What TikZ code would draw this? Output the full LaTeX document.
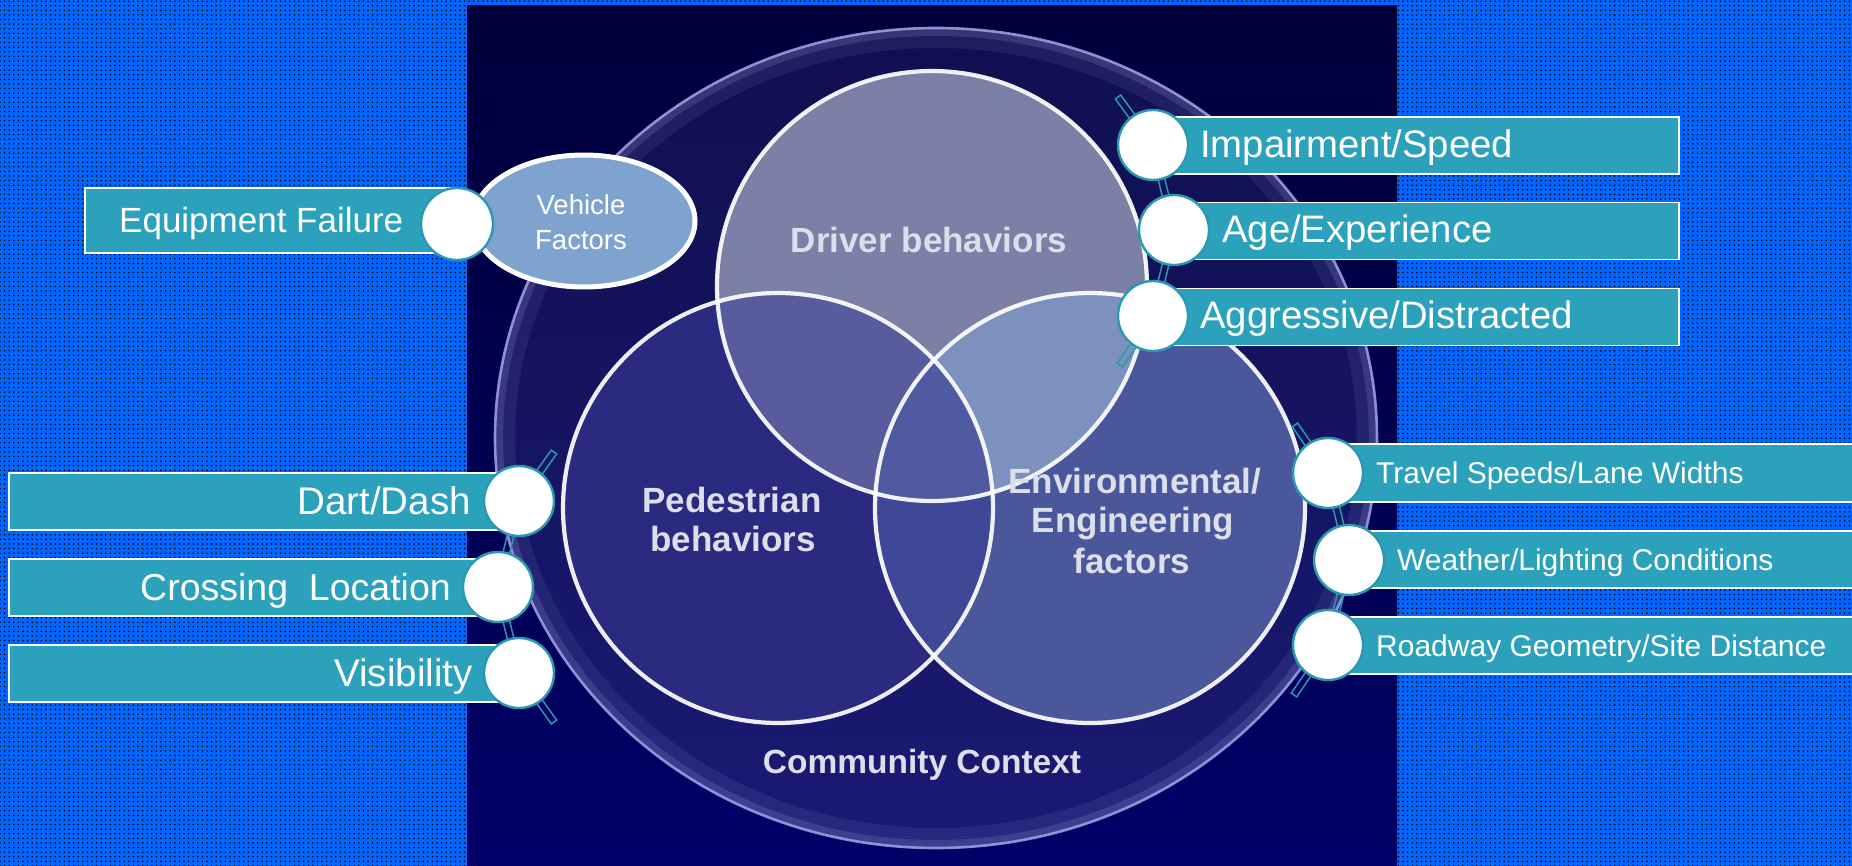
\documentclass[tikz,border=0pt]{standalone}
\usepackage{fontspec}
\setmainfont{Liberation Sans}
\usetikzlibrary{calc,patterns.meta,shapes.geometric}

\definecolor{bgblue}{HTML}{0066FF}
\definecolor{navytop}{HTML}{00003A}
\definecolor{navybot}{HTML}{000068}
\definecolor{ringtop}{HTML}{0F0F50}
\definecolor{ringbot}{HTML}{1A1A74}
\definecolor{ringedge}{HTML}{A4A4E8}
\definecolor{drv}{HTML}{7A80A6}
\definecolor{pedc}{HTML}{2A2A80}
\definecolor{envc}{HTML}{4A589B}
\definecolor{dpc}{HTML}{585C9C}
\definecolor{dec}{HTML}{7C91BE}
\definecolor{pec}{HTML}{3E4896}
\definecolor{dpec}{HTML}{505AA0}
\definecolor{tealfill}{HTML}{2CA1BB}
\definecolor{tealline}{HTML}{2A98B0}
\definecolor{vehfill}{HTML}{7FA3CF}
\definecolor{venntext}{HTML}{DCDEEA}

\newcommand\mysize[1]{\fontsize{#1}{#1}\selectfont}
% a thin bar outlined in teal between two named points
\newcommand\tealbar[2]{%
  \draw[barline] ($(#1)!3.3pt!90:(#2)$) -- ($(#2)!3.3pt!-90:(#1)$)
    -- ($(#2)!3.3pt!90:(#1)$) -- ($(#1)!3.3pt!-90:(#2)$) -- cycle;}

\begin{document}
\begin{tikzpicture}[x=1pt,y=-1pt,
  tealbox/.style={draw=white, line width=1.6pt, fill=tealfill, rectangle,
    inner sep=0pt, anchor=west},
  bubble/.style={circle, draw=tealline, line width=2.4pt, fill=white,
    inner sep=0pt, minimum size=#1},
  barline/.style={draw=tealline, line width=1.5pt},
  lbl/.style={text=white, inner sep=0pt},
  vtext/.style={text=venntext, inner sep=0pt, anchor=base,
    font=\mysize{35}\bfseries},
  vennline/.style={draw=white, line width=4.2pt, opacity=0.92}]

\clip (0,0) rectangle (1852,866);

% dotted blue backdrop
\fill[bgblue] (0,0) rectangle (1852,866);
\fill[pattern={Dots[distance=4.6pt, radius=0.9pt]}, pattern color=black]
  (0,0) rectangle (1852,866);

% dark panel
\shade[top color=navytop, bottom color=navybot] (467,6) rectangle (1397,866);

% community context ring
\shade[top color=ringtop, bottom color=ringbot] (936,438) ellipse (441 and 410);
\begin{scope}
  \clip (936,438) ellipse (441 and 410);
  \draw[ringedge, opacity=0.10, line width=40pt] (936,438) ellipse (441 and 410);
  \draw[ringedge, opacity=0.18, line width=16pt] (936,438) ellipse (441 and 410);
\end{scope}
\draw[ringedge, line width=2.6pt, opacity=0.85] (936,438) ellipse (441 and 410);

% Venn regions
\coordinate (dC) at (932,286);
\coordinate (pC) at (778,508);
\coordinate (eC) at (1090,508);
\def\vr{215}
\fill[pedc] (pC) circle (\vr);
\fill[envc] (eC) circle (\vr);
\begin{scope}
  \clip (pC) circle (\vr);
  \fill[pec] (eC) circle (\vr);
\end{scope}
\fill[drv] (dC) circle (\vr);
\begin{scope}
  \clip (dC) circle (\vr);
  \fill[dpc] (pC) circle (\vr);
  \fill[dec] (eC) circle (\vr);
  \clip (pC) circle (\vr);
  \fill[dpec] (eC) circle (\vr);
\end{scope}
\draw[vennline] (pC) circle (\vr);
\draw[vennline] (eC) circle (\vr);
\draw[vennline] (dC) circle (\vr);

% Venn labels
\node[vtext] (tdrv) at (929,253) {Driver behaviors};
\node[vtext] (tped1) at (732,512) {Pedestrian};
\node[vtext] (tped2) at (733,551) {behaviors};
\node[vtext] (tenv1) at (1135,493) {Environmental/};
\node[vtext] (tenv2) at (1133,532) {Engineering};
\node[vtext] (tenv3) at (1132,573) {factors};
\node[vtext, font=\mysize{33.5}\bfseries] (tcom) at (922,773) {Community Context};

% vehicle factors
\node[ellipse, draw=white, line width=5pt, fill=vehfill, minimum width=222pt,
  minimum height=132pt, inner sep=0pt] (veh) at (584,221) {};
\node[lbl, anchor=base, font=\mysize{27.5}] (veh1) at (581,215) {Vehicle};
\node[lbl, anchor=base, font=\mysize{27.5}] (veh2) at (581,250) {Factors};

% equipment failure
\node[tealbox, minimum width=373pt, minimum height=65pt] (beq) at (84,220.5) {};
\node[bubble=72pt] (ceq) at (457,224) {};
\node[lbl, anchor=base west, font=\mysize{35}] (teq) at (119,232.5) {Equipment Failure};

% driver group (right, top)
\coordinate (dtop) at (1118,97);
\coordinate (dbot) at (1120,365);
\coordinate (d1) at (1153,145);
\coordinate (d2) at (1174,230);
\coordinate (d3) at (1153,316);
\tealbar{dtop}{d1}
\tealbar{d1}{d2}
\tealbar{d2}{d3}
\tealbar{d3}{dbot}
\node[tealbox, minimum width=525pt, minimum height=57pt] (bd1) at (1153,145.5) {};
\node[tealbox, minimum width=504pt, minimum height=57pt] (bd2) at (1174,231) {};
\node[tealbox, minimum width=525pt, minimum height=57pt] (bd3) at (1153,317) {};
\node[bubble=70pt] (cd1) at (d1) {};
\node[bubble=70pt] (cd2) at (d2) {};
\node[bubble=70pt] (cd3) at (d3) {};
\node[lbl, anchor=base west, font=\mysize{38.3}] (td1) at (1200,157.5) {Impairment/Speed};
\node[lbl, anchor=base west, font=\mysize{38.3}] (td2) at (1222,243) {Age/Experience};
\node[lbl, anchor=base west, font=\mysize{38.3}] (td3) at (1200,329) {Aggressive/Distracted};

% environment group (right, bottom)
\coordinate (etop) at (1295,425);
\coordinate (ebot) at (1294,695);
\coordinate (e1) at (1328,473);
\coordinate (e2) at (1349,560);
\coordinate (e3) at (1328,645);
\tealbar{etop}{e1}
\tealbar{e1}{e2}
\tealbar{e2}{e3}
\tealbar{e3}{ebot}
\node[tealbox, minimum width=560pt, minimum height=58pt] (be1) at (1328,473) {};
\node[tealbox, minimum width=540pt, minimum height=57pt] (be2) at (1349,559.5) {};
\node[tealbox, minimum width=560pt, minimum height=57pt] (be3) at (1328,645.5) {};
\node[bubble=70pt] (ce1) at (e1) {};
\node[bubble=70pt] (ce2) at (e2) {};
\node[bubble=70pt] (ce3) at (e3) {};
\node[lbl, anchor=base west, font=\mysize{30}] (te1) at (1376,483.5) {Travel Speeds/Lane Widths};
\node[lbl, anchor=base west, font=\mysize{30}] (te2) at (1397,570) {Weather/Lighting Conditions};
\node[lbl, anchor=base west, font=\mysize{30}] (te3) at (1376,656) {Roadway Geometry/Site Distance};

% pedestrian group (left)
\coordinate (ptop) at (554,452);
\coordinate (pbot) at (554,722);
\coordinate (p1) at (519,501);
\coordinate (p2) at (498,587);
\coordinate (p3) at (519,673);
\tealbar{ptop}{p1}
\tealbar{p1}{p2}
\tealbar{p2}{p3}
\tealbar{p3}{pbot}
\node[tealbox, minimum width=511pt, minimum height=57pt] (bp1) at (8,501.5) {};
\node[tealbox, minimum width=490pt, minimum height=57pt] (bp2) at (8,587.5) {};
\node[tealbox, minimum width=511pt, minimum height=57pt] (bp3) at (8,673.5) {};
\node[bubble=70pt] (cp1) at (p1) {};
\node[bubble=70pt] (cp2) at (p2) {};
\node[bubble=70pt] (cp3) at (p3) {};
\node[lbl, anchor=base east, font=\mysize{38.5}] (tp1) at (471,514.5) {Dart/Dash};
\node[lbl, anchor=base east, font=\mysize{37.5}] (tp2) at (451,600.5) {Crossing~ Location};
\node[lbl, anchor=base east, font=\mysize{38.5}] (tp3) at (473,686.5) {Visibility};

\end{tikzpicture}
\end{document}
